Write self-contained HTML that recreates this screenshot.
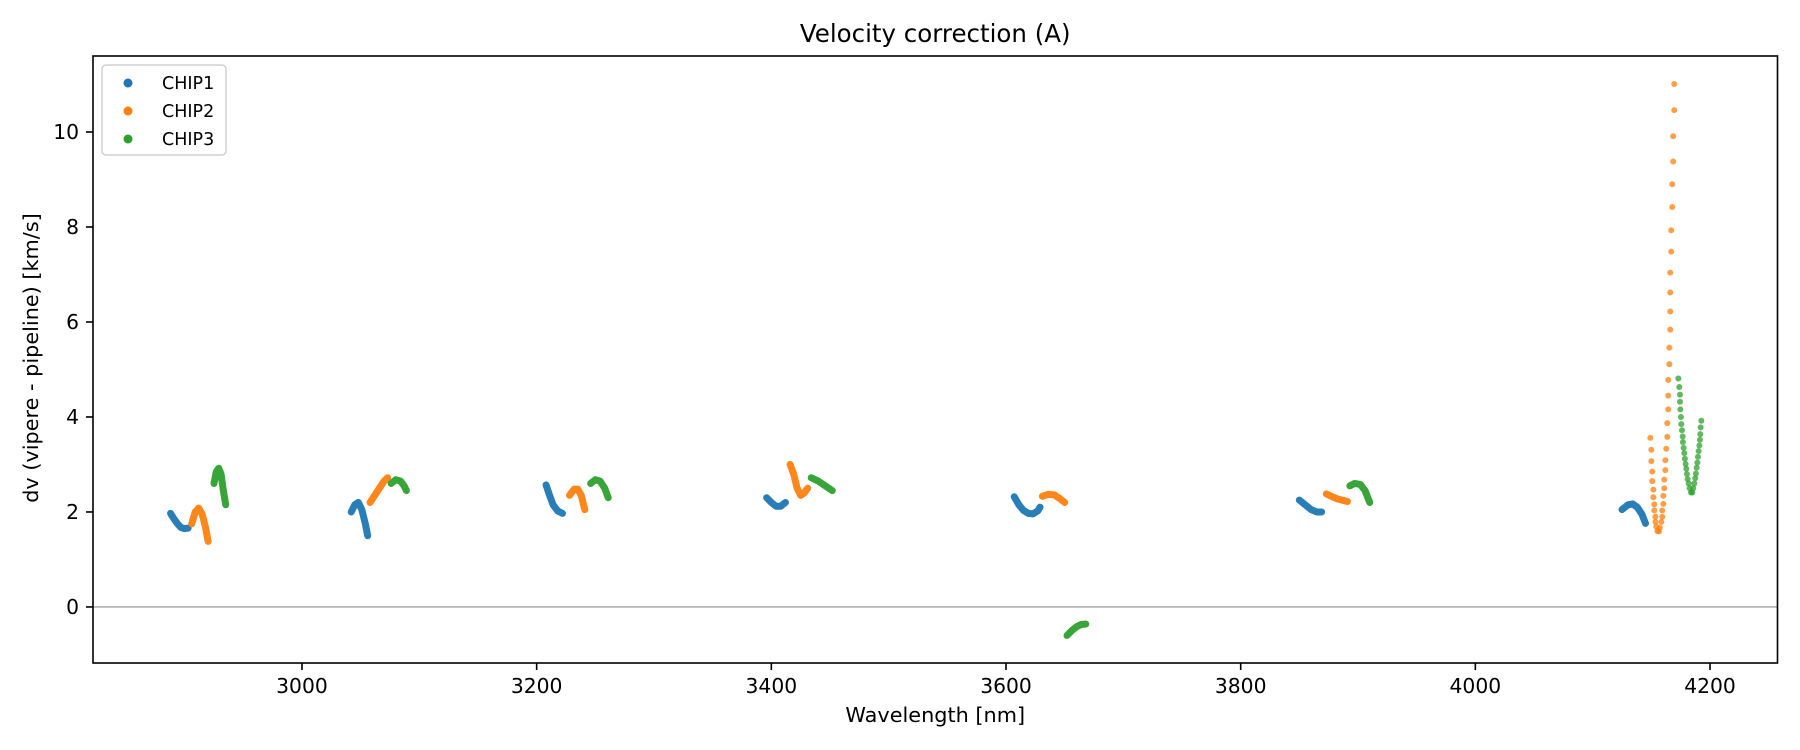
<!DOCTYPE html>
<html><head><meta charset="utf-8"><style>
html,body{margin:0;padding:0;background:#fff;}
svg{display:block;font-family:"DejaVu Sans","Liberation Sans",sans-serif;}
</style></head><body>
<svg id="chart" width="1800" height="750" viewBox="0 0 1800 750" xmlns="http://www.w3.org/2000/svg"></svg>
<script>
// ---- data (x = wavelength nm, y = dv km/s) ----
const xTicks = [3000, 3200, 3400, 3600, 3800, 4000, 4200];
const yTicks = [0, 2, 4, 6, 8, 10];
const chipNames = ["CHIP1", "CHIP2", "CHIP3"];
const chipColors = ["#1f77b4", "#ff7f0e", "#2ca02c"];

// dense segments (per group) – [x, y]
const chip1Segments = [
  [[2888,1.97],[2891,1.85],[2894,1.75],[2897,1.67],[2900,1.65],[2903,1.66]],
  [[3042,2.0],[3045,2.15],[3048,2.2],[3051,2.05],[3054,1.75],[3056,1.5]],
  [[3208,2.57],[3211,2.35],[3214,2.15],[3218,2.02],[3222,1.97]],
  [[3396,2.3],[3400,2.2],[3404,2.12],[3408,2.12],[3412,2.2]],
  [[3607,2.32],[3611,2.15],[3615,2.03],[3619,1.97],[3623,1.96],[3627,2.02],[3629,2.1]],
  [[3850,2.25],[3855,2.15],[3860,2.05],[3865,2.0],[3869,2.0]],
  [[4125,2.05],[4130,2.15],[4134,2.17],[4138,2.1],[4142,1.95],[4145,1.76]]
];
const chip2Segments = [
  [[2906,1.75],[2909,2.0],[2912,2.08],[2915,1.95],[2918,1.65],[2920,1.38]],
  [[3058,2.2],[3062,2.35],[3066,2.5],[3070,2.65],[3073,2.72]],
  [[3228,2.35],[3232,2.48],[3235,2.48],[3238,2.35],[3241,2.05]],
  [[3416,3.0],[3419,2.8],[3422,2.5],[3425,2.35],[3428,2.4],[3431,2.5]],
  [[3631,2.33],[3636,2.37],[3641,2.36],[3646,2.28],[3650,2.2]],
  [[3873,2.38],[3878,2.32],[3883,2.27],[3888,2.24],[3891,2.22]]
];
const chip3Segments = [
  [[2925,2.6],[2927,2.85],[2929,2.92],[2931,2.8],[2933,2.45],[2935,2.15]],
  [[3076,2.6],[3080,2.68],[3084,2.65],[3087,2.55],[3089,2.45]],
  [[3246,2.6],[3250,2.68],[3254,2.65],[3258,2.5],[3261,2.3]],
  [[3434,2.72],[3440,2.65],[3446,2.55],[3452,2.45]],
  [[3652,-0.6],[3656,-0.5],[3660,-0.42],[3664,-0.37],[3668,-0.36]],
  [[3893,2.55],[3897,2.6],[3902,2.58],[3906,2.45],[3910,2.2]]
];
// sparse dots near 4150-4195
const chip2Dots = [
  [4149.1,3.56],[4150,3.31],[4150,3.07],[4150.8,2.85],[4150.8,2.65],[4151.7,2.47],[4151.7,2.31],
  [4152.5,2.16],[4152.5,2.03],[4153.4,1.90],[4153.4,1.79],[4154.2,1.69],[4155.1,1.60],
  [4156.5,1.59],[4157.3,1.67],[4158.5,1.79],[4159.3,1.90],[4159.3,2.03],[4160.2,2.17],[4160.2,2.34],
  [4161,2.50],[4161,2.68],[4161.9,2.88],[4161.9,3.09],[4162.7,3.33],[4163.6,3.58],[4163.6,3.87],
  [4164.4,4.16],[4164.4,4.45],[4164.4,4.78],[4165.3,5.11],[4165.3,5.46],[4166.1,5.84],[4166.1,6.22],
  [4166.1,6.62],[4166.1,7.04],[4166.9,7.48],[4166.9,7.93],[4167.8,8.42],[4167.8,8.90],
  [4168.6,9.38],[4168.6,9.91],[4169.5,10.46],[4169.5,11.01]
];
const chip3Dots = [
  [4173.0,4.81],[4173.8,4.63],[4174.4,4.47],[4174.4,4.32],[4174.7,4.16],[4175.2,4.00],[4175.5,3.85],
  [4176.1,3.72],[4176.7,3.59],[4176.9,3.47],[4177.5,3.35],[4178.1,3.24],[4178.6,3.12],[4179.2,3.01],
  [4179.8,2.91],[4180.3,2.80],[4180.9,2.69],[4181.8,2.60],[4182.6,2.50],[4183.8,2.41],
  [4184.9,2.41],[4185.7,2.50],[4186.6,2.60],[4187.4,2.71],[4188.0,2.81],[4188.6,2.93],[4189.2,3.04],
  [4189.7,3.16],[4190.3,3.28],[4190.9,3.40],[4191.4,3.52],[4191.7,3.64],[4192.0,3.78],[4192.6,3.92]
];

// ---- layout ----
const L=93, R=1777.5, T=56, B=663;
const X0=2821.9, X1=4257.5, Y0=-1.18, Y1=11.6;
const sx = v => L + (v - X0) / (X1 - X0) * (R - L);
const sy = v => B - (v - Y0) / (Y1 - Y0) * (B - T);
const NS = "http://www.w3.org/2000/svg";
const svg = document.getElementById("chart");
function mk(tag, attrs, parent) {
  const e = document.createElementNS(NS, tag);
  for (const k in attrs) e.setAttribute(k, attrs[k]);
  (parent || svg).appendChild(e);
  return e;
}

// title & labels
let t = mk("text", {x: (L+R)/2, y: 42, "text-anchor": "middle", "font-size": 24.5, fill: "#000"});
t.textContent = "Velocity correction (A)";


t = mk("text", {x: (L+R)/2, y: 722, "text-anchor": "middle", "font-size": 20.8, fill: "#000"});
t.textContent = "Wavelength [nm]";


t = mk("text", {x: 0, y: 0, "text-anchor": "middle", "font-size": 20.8, fill: "#000", transform: "translate(38,358) rotate(-90)"});
t.textContent = "dv (vipere - pipeline) [km/s]";



// zero line
let z = mk("line", {x1: L, x2: R, y1: sy(0), y2: sy(0), stroke: "#8c8c8c", "stroke-width": 1.2});



// ticks
xTicks.forEach(v => {
  const g = mk("g", {});
  
  
  mk("line", {x1: sx(v), x2: sx(v), y1: B, y2: B + 7, stroke: "#000", "stroke-width": 1.6}, g);
  const tx = mk("text", {x: sx(v), y: 693, "text-anchor": "middle", "font-size": 20.3, fill: "#000"}, g);
  tx.textContent = v;
});
yTicks.forEach(v => {
  const g = mk("g", {});
  
  
  mk("line", {x1: L - 7, x2: L, y1: sy(v), y2: sy(v), stroke: "#000", "stroke-width": 1.6}, g);
  const tx = mk("text", {x: L - 14, y: sy(v) + 7, "text-anchor": "end", "font-size": 20.3, fill: "#000"}, g);
  tx.textContent = v;
});

// series
const allSegs = [chip1Segments, chip2Segments, chip3Segments];
allSegs.forEach((segs, ci) => {
  const g = mk("g", {});
  
  
  segs.forEach(seg => {
    const p = mk("polyline", {points: seg.map(d => sx(d[0]) + "," + sy(d[1])).join(" "),
      fill: "none", stroke: chipColors[ci], "stroke-width": 7, "stroke-linecap": "round", "stroke-linejoin": "round", opacity: 0.95}, g);
    
    
  });
});
[[chip2Dots, 1], [chip3Dots, 2]].forEach(([dots, ci]) => {
  const g = mk("g", {});
  
  
  dots.forEach(d => {
    const c = mk("circle", {cx: sx(d[0]), cy: sy(d[1]), r: 3, fill: chipColors[ci], opacity: 0.75}, g);
    
    
  });
});

// frame
let fr = mk("rect", {x: L, y: T, width: R - L, height: B - T, fill: "none", stroke: "#000", "stroke-width": 1.6});



// legend
const lg = mk("g", {});


mk("rect", {x: 102, y: 65, width: 124, height: 90, rx: 4, fill: "#fff", "fill-opacity": 0.8, stroke: "#d0d0d0", "stroke-width": 1.5}, lg);
chipNames.forEach((n, i) => {
  const e = mk("g", {}, lg);
  
  
  const cy = 83 + i * 28;
  mk("circle", {cx: 128, cy: cy, r: 4.5, fill: chipColors[i]}, e);
  const tx = mk("text", {x: 162, y: cy + 6, "font-size": 17.5, fill: "#000"}, e);
  tx.textContent = n;
});
</script>
</body></html>
